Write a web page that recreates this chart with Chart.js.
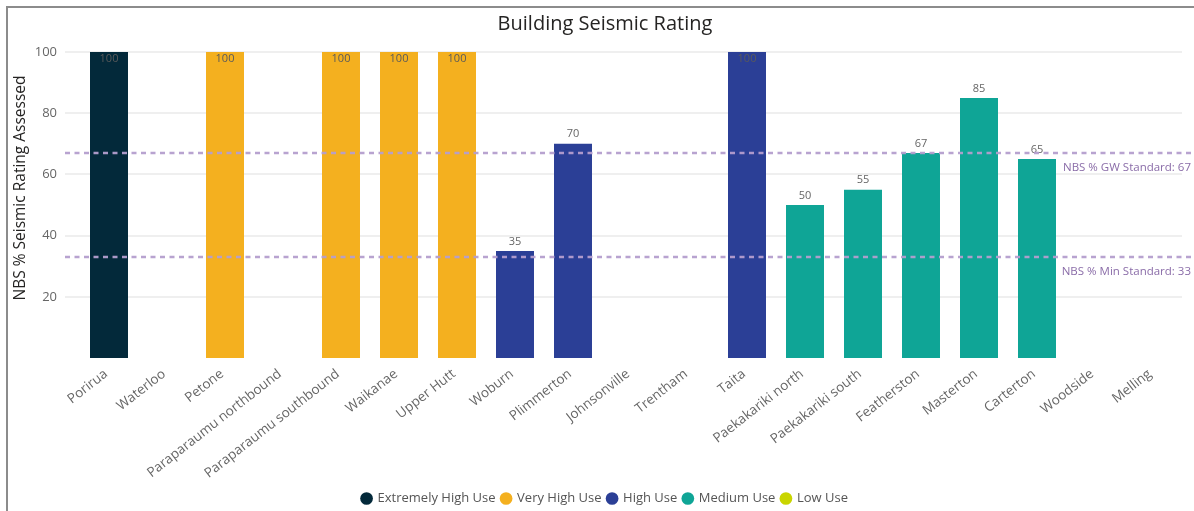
<!DOCTYPE html>
<html>
<head>
<meta charset="utf-8">
<script src="https://cdn.jsdelivr.net/npm/chart.js@4/dist/chart.umd.min.js"></script>
<style>
  html, body { margin: 0; padding: 0; background: #fff; }
  #wrap { position: relative; width: 1194px; height: 511px; overflow: hidden; }
  #frame {
    position: absolute; left: 6px; top: 6px; width: 1300px; height: 600px;
    border-left: 2px solid #8c8c8c; border-top: 2px solid #8c8c8c;
    pointer-events: none;
  }
</style>
</head>
<body>
<div id="wrap">
  <canvas id="seismicChart" width="1194" height="511"></canvas>
  <div id="frame"></div>
</div>
<script>
const categories = [
  'Porirua', 'Waterloo', 'Petone', 'Paraparaumu northbound', 'Paraparaumu southbound',
  'Waikanae', 'Upper Hutt', 'Woburn', 'Plimmerton', 'Johnsonville', 'Trentham', 'Taita',
  'Paekakariki north', 'Paekakariki south', 'Featherston', 'Masterton', 'Carterton',
  'Woodside', 'Melling'
];
const ratings = [100, null, 100, null, 100, 100, 100, 35, 70, null, null, 100, 50, 55, 67, 85, 65, null, null];
const usage = [
  'Extremely High Use', null, 'Very High Use', null, 'Very High Use',
  'Very High Use', 'Very High Use', 'High Use', 'High Use', null, null, 'High Use',
  'Medium Use', 'Medium Use', 'Medium Use', 'Medium Use', 'Medium Use',
  null, null
];
const usageLevels = ['Extremely High Use', 'Very High Use', 'High Use', 'Medium Use', 'Low Use'];
const usageColors = ['#03293a', '#f4b01f', '#2b3f96', '#0fa596', '#c9d500'];
const yTicks = [20, 40, 60, 80, 100];
const standardNames = ['NBS % GW Standard', 'NBS % Min Standard'];
const standardValues = [67, 33];
const yTitle = 'NBS % Seismic Rating Assessed';

const fontFamily = "'Open Sans', 'Noto Sans', sans-serif";
Chart.defaults.font.family = fontFamily;
Chart.defaults.color = '#666';

// one dataset per usage level, null where the station is another level
const datasets = usageLevels.map(function (level, i) {
  return {
    label: level,
    data: ratings.map(function (v, j) { return usage[j] === level ? v : null; }),
    backgroundColor: usageColors[i],
    borderColor: usageColors[i],
    barPercentage: 0.655,
    categoryPercentage: 1,
    skipNull: true
  };
});

const overlayPlugin = {
  id: 'overlay',
  afterDatasetsDraw: function (chart) {
    const ctx = chart.ctx;
    const area = chart.chartArea;
    const yScale = chart.scales.y;

    // value labels
    ctx.save();
    ctx.font = '11px ' + fontFamily;
    ctx.textAlign = 'center';
    chart.data.datasets.forEach(function (ds, di) {
      const meta = chart.getDatasetMeta(di);
      meta.data.forEach(function (bar, i) {
        const v = ds.data[i];
        if (v === null || v === undefined) return;
        if (v >= 100) {
          ctx.fillStyle = '#5a5a5a';
          ctx.textBaseline = 'top';
          ctx.fillText(String(v), bar.x, bar.y + 1);
        } else {
          ctx.fillStyle = '#666';
          ctx.textBaseline = 'bottom';
          ctx.fillText(String(v), bar.x, bar.y - 4);
        }
      });
    });
    ctx.restore();

    // standard lines
    ctx.save();
    standardValues.forEach(function (val, i) {
      const y = yScale.getPixelForValue(val);
      ctx.strokeStyle = 'rgba(180, 158, 206, 0.95)';
      ctx.lineWidth = 2.5;
      ctx.setLineDash([5, 4.5]);
      ctx.beginPath();
      ctx.moveTo(area.left - 15, y);
      ctx.lineTo(chart.width, y);
      ctx.stroke();
      ctx.setLineDash([]);
      ctx.fillStyle = '#8a6ca8';
      ctx.font = '11.5px ' + fontFamily;
      ctx.textAlign = 'right';
      ctx.textBaseline = 'middle';
      ctx.fillText(standardNames[i] + ': ' + val, chart.width - 3, y + 15);
    });
    ctx.restore();

    // y axis title (sits a little above the plot centre in the original)
    ctx.save();
    ctx.translate(21, 188);
    ctx.rotate(-Math.PI / 2);
    ctx.fillStyle = '#252423';
    ctx.font = '15.5px ' + fontFamily;
    ctx.textAlign = 'center';
    ctx.textBaseline = 'middle';
    ctx.fillText(yTitle, 0, 0);
    ctx.restore();
  }
};

new Chart(document.getElementById('seismicChart'), {
  type: 'bar',
  data: { labels: categories, datasets: datasets },
  plugins: [overlayPlugin],
  options: {
    responsive: false,
    animation: false,
    devicePixelRatio: 1,
    layout: { padding: { left: 28, right: 12, top: 0, bottom: -4 } },
    plugins: {
      title: {
        display: true,
        text: 'Building Seismic Rating',
        color: '#252423',
        font: { size: 20, weight: 'normal' },
        padding: { top: 12, bottom: 16 }
      },
      legend: {
        position: 'bottom',
        labels: {
          usePointStyle: true,
          pointStyle: 'circle',
          boxWidth: 9,
          boxHeight: 9,
          padding: 6,
          color: '#555',
          font: { size: 13 }
        }
      },
      tooltip: { enabled: false }
    },
    scales: {
      x: {
        grid: { display: false },
        border: { display: false },
        ticks: {
          autoSkip: false,
          minRotation: 38,
          maxRotation: 38,
          padding: 0,
          labelOffset: -3,
          color: '#666',
          font: { size: 13.5 }
        },
        afterFit: function (scale) { scale.height = 128; }
      },
      y: {
        min: 0,
        max: 100,
        afterBuildTicks: function (scale) {
          scale.ticks = yTicks.map(function (v) { return { value: v }; });
        },
        grid: { color: '#efefef', lineWidth: 2, tickLength: 15 },
        border: { display: false },
        ticks: { color: '#666', font: { size: 13 }, padding: 8 },
        afterFit: function (scale) { scale.width = 52; }
      }
    }
  }
});
</script>
</body>
</html>
